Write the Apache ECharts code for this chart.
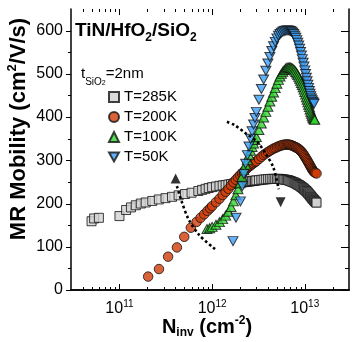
<!DOCTYPE html>
<html><head><meta charset="utf-8">
<script src="https://cdn.jsdelivr.net/npm/echarts@6/dist/echarts.min.js"></script>
<style>html,body{margin:0;padding:0;background:#fff;}#c{width:352px;height:342px;}</style>
</head><body><div id="c"></div>
<script>
const FONT = 'Liberation Sans';
// N_inv in units of 1e12 cm^-2 ; MR mobility in cm^2/V/s
const mob285K = [
[0.050,159],[0.0533,165.5],[0.060,167],[0.100,171],[0.118,185],[0.133,191],[0.150,196],[0.170,200],[0.192,202.5],[0.226,206],[0.266,209.5],[0.314,212.5],[0.369,215.5],[0.435,219],[0.510,222],[0.600,225],[0.710,229],[0.780,231.5],[0.850,234],[0.920,236],
[1.0,238],[1.1,239.5],[1.2,241],[1.3,242],[1.4,243],[1.5,244],[1.6,245],[1.7,246],[1.8,247],[1.9,247.5],[2.0,248.5],[2.1,249],[2.2,249.5],[2.3,250],[2.4,250.5],[2.5,251],[2.6,251.5],[2.7,252],[2.8,252.5],[2.9,253],[3.0,253.5],
[3.2,254],[3.4,255],[3.6,255.5],[3.8,256],[4.0,256.5],[4.2,257],[4.4,257],[4.6,257],[4.8,257],[5.0,257],[5.2,257],[5.4,257],[5.6,256.5],[5.8,256],[6.0,255.5],[6.2,255],[6.4,254.5],[6.6,254],[6.8,253],[7.0,252],[7.2,251],[7.4,250],[7.6,249],[7.8,248],[8.0,247],[8.2,245],[8.4,244],[8.6,243],[8.8,241.5],[9.0,240],[9.2,238.5],[9.4,237],[9.6,235.5],[9.8,234],[10.0,232],[10.2,230.5],[10.4,229],[10.6,227],[10.8,225],[11.0,223],[11.2,221],[11.4,219],[11.6,217],[11.8,215],[12.0,213],[12.2,211],[12.4,209.5],[12.6,208],[12.8,206],[13.0,204.5],[13.2,203],[13.4,202]
];
const mob200K = [
[0.204,31],[0.267,48.5],[0.335,77],[0.417,98.5],[0.500,123],[0.589,144],[0.680,157.5],[0.750,167],[0.820,175],[0.890,183],[0.950,189],
[1.0,194],[1.1,203],[1.2,211],[1.3,219.5],[1.4,227],[1.5,234],[1.6,242],[1.7,249],[1.8,255],[1.9,260.5],[2.0,265.5],[2.1,269.5],[2.2,274],[2.3,278],[2.4,282],[2.5,285.5],[2.6,288],[2.7,291],[2.8,293.5],[2.9,296],[3.0,298],
[3.2,303],[3.4,308],[3.6,312.5],[3.8,316],[4.0,319],[4.2,322],[4.4,324.5],[4.6,327],[4.8,328.5],[5.0,330.5],[5.2,332],[5.4,333.5],[5.6,334.5],[5.8,335.5],[6.0,336],[6.2,336.5],[6.4,336.5],[6.6,336.5],[6.8,336],[7.0,335.5],[7.2,334.5],[7.4,333.5],[7.6,332.5],[7.8,331],[8.0,330],[8.2,329],[8.4,327.5],[8.6,326],[8.8,324],[9.0,322],[9.2,320],[9.4,317.5],[9.6,315],[9.8,312],[10.0,309],[10.2,306],[10.4,303],[10.6,300],[10.8,297],[11.0,294],[11.2,291],[11.4,288],[11.6,285],[11.8,282],[12.0,279.5],[12.2,277],[12.4,275],[12.6,273],[12.8,272],[13.0,271],[13.4,269.5]
];
const mob100K = [
[0.88,141],[0.94,143],[1.0,146],[1.1,151],[1.2,157],[1.3,164],[1.4,172],[1.5,181],[1.6,192],[1.7,205],[1.8,219],[1.9,233],[2.0,247],[2.1,262],[2.2,277],[2.3,290],[2.4,301],[2.5,312],[2.6,322],[2.7,331],[2.8,339],[2.9,347],[3.0,354],
[3.2,370],[3.4,385],[3.6,399],[3.8,412],[4.0,424],[4.2,436],[4.4,447],[4.6,457],[4.8,467],[5.0,477],[5.2,486],[5.4,494],[5.6,500],[5.8,505],[6.0,509],[6.2,512],[6.4,514],[6.6,515],[6.8,515],[7.0,514.5],[7.2,513.5],[7.4,512],[7.6,510],[7.8,507.5],[8.0,504.5],[8.2,501],[8.4,497],[8.6,493],[8.8,488.5],[9.0,484],[9.2,479],[9.4,474],[9.6,469],[9.8,463.5],[10.0,458],[10.2,452],[10.4,446],[10.6,440],[10.8,434],[11.0,428.5],[11.2,423],[11.4,417.5],[11.6,412],[11.8,407.5],[12.0,403],[12.2,399],[12.4,396.5],[12.6,395],[12.8,394]
];
const mob50K = [
[1.68,113],[1.81,167],[2.02,205],[2.12,240],[2.2,268],[2.3,292],[2.4,312],[2.5,332],[2.6,350],[2.7,367],[2.8,383],[2.9,398],[3.0,412],
[3.2,440],[3.4,465],[3.6,487],[3.8,507],[4.0,524],[4.2,539],[4.4,553],[4.6,564],[4.8,574],[5.0,582],[5.2,588],[5.4,592],[5.6,595],[5.8,597.5],[6.0,599],[6.2,600],[6.4,600.5],[6.6,600.5],[6.8,600],[7.0,599],[7.2,597.5],[7.4,595],[7.6,592],[7.8,588],[8.0,583.5],[8.2,578],[8.4,572],[8.6,565.5],[8.8,558],[9.0,550.5],[9.2,542.5],[9.4,534],[9.6,525.5],[9.8,517],[10.0,508],[10.2,499.5],[10.4,491],[10.6,483],[10.8,475],[11.0,467.5],[11.2,460.5],[11.4,454],[11.6,448],[11.8,443],[12.0,439],[12.2,435.5],[12.4,433],[12.6,431]
];
const legendNames = ['T=285K', 'T=200K', 'T=100K', 'T=50K'];
// axes
const xRange = [0.03, 30];
const yRange = [0, 650];
const xMajorTicks = [0.1, 1, 10];
const xMinorTicks = [0.04,0.05,0.06,0.07,0.08,0.09,0.2,0.3,0.4,0.5,0.6,0.7,0.8,0.9,2,3,4,5,6,7,8,9,20];
const yMajorTicks = [0,100,200,300,400,500,600];
const yMinorTicks = [50,150,250,350,450,550];
// dotted annotation arrows
const arrowUpPath = [[1.077,94.7],[0.727,127],[0.556,164],[0.468,205.5],[0.414,242.5]];
const arrowUpHead = [[0.404,258]];
const arrowDownPath = [[1.445,389],[1.758,381],[2.30,362.6],[3.09,341.8],[3.75,316.4],[4.57,284],[5.23,233]];
const arrowDownHead = [[5.49,203]];

const chart = echarts.init(document.getElementById('c'), null, {renderer:'canvas'});

function xTickSeries(vals, len) {
  return {
    type:'custom', silent:true, clip:false, z:5,
    data: vals.map(v => [v, yRange[0]]),
    renderItem: function(params, api) {
      const v = api.value(0);
      const b = api.coord([v, yRange[0]]);
      const t = api.coord([v, yRange[1]]);
      const x = Math.round(b[0]) + 0.5;
      return {type:'group', children:[
        {type:'line', shape:{x1:x, y1:b[1], x2:x, y2:b[1]-len}, style:{stroke:'#000', lineWidth:1}},
        {type:'line', shape:{x1:x, y1:t[1], x2:x, y2:t[1]+len}, style:{stroke:'#000', lineWidth:1}}
      ]};
    }
  };
}
function yTickSeries(vals, lenOut, lenIn) {
  return {
    type:'custom', silent:true, clip:false, z:5,
    data: vals.map(v => [xRange[0], v]),
    renderItem: function(params, api) {
      const v = api.value(1);
      const l = api.coord([xRange[0], v]);
      const r = api.coord([xRange[1], v]);
      const y = Math.round(l[1]) + 0.5;
      return {type:'group', children:[
        {type:'line', shape:{x1:l[0]-lenOut, y1:y, x2:l[0], y2:y}, style:{stroke:'#000', lineWidth:1}},
        {type:'line', shape:{x1:r[0]-lenIn, y1:y, x2:r[0], y2:y}, style:{stroke:'#000', lineWidth:1}}
      ]};
    }
  };
}
function dotted(path) {
  return {type:'line', data:path, symbol:'none', smooth:0.3, silent:true,
    lineStyle:{color:'#000', width:2.6, type:[2.6,2.6], cap:'butt'}};
}
function head(pt, rot) {
  return {type:'scatter', data:pt, symbol:'triangle', symbolSize:[10,10], symbolRotate:rot, silent:true,
    itemStyle:{color:'#000'}};
}
const border = {borderColor:'#111', borderWidth:1};

const axisLineStyle = {show:true, lineStyle:{color:'#000', width:1.5}};
const option = {
  animation:false,
  backgroundColor:'#fff',
  grid:{left:71, top:9, width:282, height:281, containLabel:false},
  xAxis:[
    {type:'log', logBase:10, min:xRange[0], max:xRange[1], position:'bottom',
     axisLine:axisLineStyle, axisTick:{show:false}, splitLine:{show:false},
     axisLabel:{margin:9, formatter:function(v){
        const e = Math.round(Math.log10(v));
        if (Math.abs(Math.log10(v) - e) > 1e-6) return '';
        return '{b|10}{s|' + (e + 12) + '}';
      }, rich:{
        b:{fontSize:16, fontFamily:FONT, color:'#000', lineHeight:20},
        s:{fontSize:10, fontFamily:FONT, color:'#000', lineHeight:12, verticalAlign:'top'}
      }}},
    {type:'log', logBase:10, min:xRange[0], max:xRange[1], position:'top',
     axisLine:axisLineStyle, axisTick:{show:false}, axisLabel:{show:false}, splitLine:{show:false}}
  ],
  yAxis:[
    {type:'value', min:yRange[0], max:yRange[1], interval:100, position:'left',
     axisLine:axisLineStyle, axisTick:{show:false}, splitLine:{show:false},
     axisLabel:{margin:8, fontSize:16, fontFamily:FONT, color:'#000',
       formatter:function(v){ return v % 100 === 0 ? String(v) : ''; }}},
    {type:'value', min:yRange[0], max:yRange[1], interval:100, position:'right',
     axisLine:axisLineStyle, axisTick:{show:false}, axisLabel:{show:false}, splitLine:{show:false}}
  ],
  legend:{
    data:[{name:legendNames[0]}, {name:legendNames[1]}, {name:legendNames[2]},
          {name:legendNames[3], icon:'path://M0,0 L10,0 L5,9 Z'}],
    orient:'vertical', left:108, top:87, itemWidth:10, itemHeight:10, itemGap:0, padding:0,
    selectedMode:false,
    textStyle:{fontSize:15, fontFamily:FONT, color:'#000', lineHeight:20}
  },
  series:[
    {name:legendNames[0], type:'scatter', data:mob285K, symbol:'rect', symbolSize:9,
     itemStyle:Object.assign({color:'#d2d2d2'}, border)},
    {name:legendNames[1], type:'scatter', data:mob200K, symbol:'circle', symbolSize:9.5,
     itemStyle:Object.assign({color:'#d13b06'}, border)},
    dotted(arrowUpPath), head(arrowUpHead, 0),
    dotted(arrowDownPath), head(arrowDownHead, 180),
    {name:legendNames[2], type:'scatter', data:mob100K, symbol:'triangle', symbolSize:[10,9],
     itemStyle:Object.assign({color:'#2fd42f'}, border)},
    {name:legendNames[3], type:'scatter', data:mob50K, symbol:'triangle', symbolSize:[10,9], symbolRotate:180,
     itemStyle:Object.assign({color:'#3d9df5'}, border)},
    xTickSeries(xMajorTicks, 6), xTickSeries(xMinorTicks, 3),
    yTickSeries(yMajorTicks, 5, 8), yTickSeries(yMinorTicks, 3, 4)
  ],
  graphic:[
    {type:'text', x:75, y:18, style:{text:'{b|TiN/HfO}{s|2}{b|/SiO}{s|2}', verticalAlign:'top', rich:{
      b:{fontSize:19, fontWeight:'bold', fontFamily:FONT, fill:'#000', lineHeight:26},
      s:{fontSize:12, fontWeight:'bold', fontFamily:FONT, fill:'#000', lineHeight:12, verticalAlign:'bottom'}
    }}},
    {type:'text', x:81, y:61, style:{text:'{r|t}{sb|SiO}{ss|2}{r|=2nm}', verticalAlign:'top', rich:{
      r:{fontSize:15, fontFamily:FONT, fill:'#000', lineHeight:26},
      sb:{fontSize:10, fontFamily:FONT, fill:'#000', lineHeight:10, verticalAlign:'bottom'},
      ss:{fontSize:7, fontFamily:FONT, fill:'#000', lineHeight:4, verticalAlign:'bottom'}
    }}},
    {type:'text', x:19, y:129, rotation:Math.PI/2, style:{text:'{b|MR Mobility (cm}{p|2}{b|/V/s)}', align:'center', verticalAlign:'middle', rich:{
      b:{fontSize:22, fontWeight:'bold', fontFamily:FONT, fill:'#000', lineHeight:26},
      p:{fontSize:13, fontWeight:'bold', fontFamily:FONT, fill:'#000', lineHeight:15, verticalAlign:'top'}
    }}},
    {type:'text', x:207, y:327, style:{text:'{b|N}{sb|inv}{b| (cm}{sp|-2}{b|)}', align:'center', verticalAlign:'middle', rich:{
      b:{fontSize:20, fontWeight:'bold', fontFamily:FONT, fill:'#000', lineHeight:24},
      sb:{fontSize:12, fontWeight:'bold', fontFamily:FONT, fill:'#000', lineHeight:12, verticalAlign:'bottom'},
      sp:{fontSize:12, fontWeight:'bold', fontFamily:FONT, fill:'#000', lineHeight:14, verticalAlign:'top'}
    }}}
  ]
};
chart.setOption(option);
</script></body></html>
